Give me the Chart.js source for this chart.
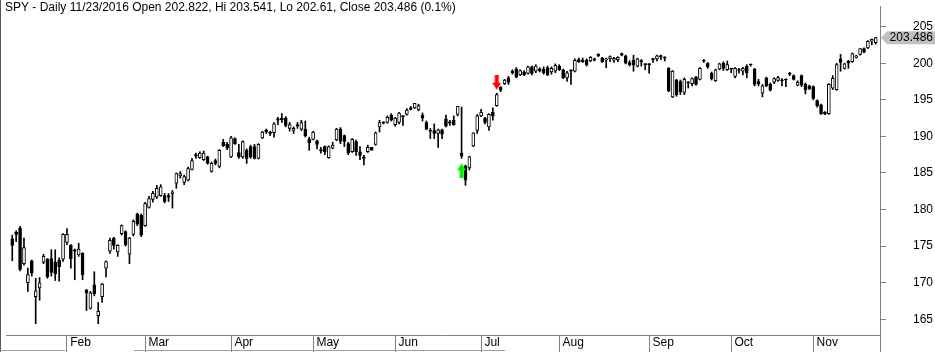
<!DOCTYPE html>
<html lang="en">
<head>
<meta charset="UTF-8">
<title>SPY - Daily</title>
<script src="https://cdn.jsdelivr.net/npm/chart.js"></script>
<style>
  html, body { margin: 0; padding: 0; background: #fff; }
  canvas { display: block; }
</style>
</head>
<body>
<canvas id="spyChart" width="935" height="352"></canvas>
<script>
const titleText = 'SPY - Daily 11/23/2016 Open 202.822, Hi 203.541, Lo 202.61, Close 203.486 (0.1%)';

// one entry per trading day, 11 Jan 2016 .. 23 Nov 2016
const opens = [
  176.0,176.9,177.5,172.6,170.0,173.0,168.1,169.3,172.8,173.2,
  173.3,172.8,173.1,173.2,175.5,175.1,174.5,173.8,174.0,169.0,
  166.5,169.7,165.5,168.1,172.0,174.3,176.1,174.2,176.7,177.0,
  173.9,176.6,179.4,179.2,177.8,180.3,181.4,181.7,181.9,181.9,
  181.9,182.2,183.6,184.6,183.7,184.0,185.5,187.5,187.1,186.8,
  187.2,185.2,186.7,185.9,189.2,188.9,187.2,189.7,187.8,187.2,
  188.1,188.6,188.6,187.0,189.8,190.9,190.6,190.5,192.4,192.5,
  192.5,191.1,190.8,191.6,191.0,191.0,189.6,189.6,189.4,188.2,
  188.6,187.1,188.4,189.5,191.0,190.1,189.0,187.9,189.3,187.9,
  187.2,187.9,188.5,188.9,191.3,192.0,191.9,192.9,191.6,191.9,
  192.8,193.0,193.9,193.9,193.6,192.9,191.9,190.8,190.8,190.4,
  190.9,192.4,192.0,192.2,193.0,187.7,185.9,185.7,188.7,190.8,
  192.8,192.5,191.3,193.3,194.2,196.7,197.2,198.0,198.9,199.2,
  198.4,198.8,198.6,199.5,198.9,199.2,199.2,199.4,198.8,198.9,
  199.6,199.1,198.0,199.1,198.9,200.5,200.4,200.4,200.3,200.6,
  201.2,200.7,200.4,200.6,200.4,200.5,201.3,201.0,200.1,200.4,
  199.6,200.35,199.9,199.9,200.6,200.6,201.0,200.8,199.3,195.4,
  197.7,197.5,196.0,197.4,197.2,198.1,197.8,200.4,200.0,198.6,
  197.6,199.2,200.0,199.1,199.3,198.2,199.1,198.9,199.6,199.8,
  199.2,197.5,195.9,198.0,197.1,197.4,197.65,197.7,197.8,198.65,
  198.3,197.0,198.3,197.1,196.9,196.8,194.9,194.3,193.3,193.1,
  196.6,196.4,200.6,199.3,200.3,200.2,200.8,201.2,202.0,202.1,
  203.0,202.822
];
const highs = [
  176.5,177.1,177.7,176.1,172.0,173.1,170.6,170.7,173.9,173.3,
  174.5,174.5,173.4,176.7,177.4,175.2,174.6,175.4,174.1,169.1,
  168.8,171.5,167.3,169.9,173.0,176.1,176.2,175.2,177.9,177.1,
  176.2,178.6,179.5,179.4,181.0,181.8,182.5,183.3,183.4,182.2,
  182.2,182.6,185.0,185.2,184.7,185.8,187.0,187.7,187.9,188.0,
  187.3,186.5,186.9,188.2,189.6,189.2,190.0,189.8,188.9,189.4,
  188.3,188.8,188.9,189.0,190.7,191.0,190.7,191.9,192.6,193.1,
  192.7,191.9,191.3,191.9,192.2,192.1,189.9,190.7,189.5,188.5,
  188.7,188.7,189.2,191.1,191.2,190.2,189.2,189.7,189.5,188.6,
  187.4,188.8,188.5,190.6,192.2,192.0,192.8,193.1,192.6,193.3,
  192.8,193.8,194.1,194.5,194.4,193.2,192.1,191.1,191.7,191.0,
  191.0,192.9,192.2,192.8,194.1,194.0,186.1,187.3,190.5,193.0,
  193.7,192.6,193.1,193.9,195.9,196.8,197.8,198.2,199.1,199.4,
  199.1,199.0,199.6,199.6,199.8,199.4,199.5,199.6,199.5,199.9,
  199.8,199.2,198.9,199.1,200.6,200.7,200.7,200.6,200.9,200.7,
  201.3,200.8,200.7,201.0,200.8,200.9,201.4,201.1,200.35,201.1,
  200.7,200.5,199.9,199.9,200.7,201.1,201.1,200.9,199.4,199.0,
  197.8,197.7,198.0,197.5,198.0,198.2,199.4,200.5,200.1,198.8,
  199.2,200.0,200.2,200.3,199.3,199.4,199.3,199.45,199.8,199.9,
  199.3,197.8,197.1,198.1,197.3,198.0,198.2,197.9,197.85,198.75,
  198.4,197.6,198.4,197.3,197.0,196.9,195.0,194.4,193.4,197.2,
  198.3,200.0,201.2,200.0,200.4,201.4,201.1,202.0,202.1,203.1,
  203.3,203.541
];
const lows = [
  173.0,175.6,171.6,172.4,168.8,170.9,164.4,167.6,172.6,170.6,
  170.9,170.3,170.2,172.9,175.2,172.0,170.4,173.6,170.4,166.2,
  166.4,168.2,164.4,167.3,170.8,174.0,174.6,173.6,176.5,175.0,
  172.6,176.4,177.8,176.3,177.7,180.2,181.0,181.5,181.8,180.9,
  181.1,180.2,182.9,184.3,183.4,183.9,185.4,187.0,187.0,186.7,
  186.2,185.1,186.1,185.7,188.6,188.2,187.1,188.9,187.0,187.0,
  186.3,187.0,186.9,186.9,189.7,190.4,190.1,189.9,191.6,191.9,
  191.3,190.7,190.4,191.1,190.8,189.9,188.1,189.5,188.3,187.7,
  187.5,187.0,188.3,189.4,189.0,188.6,187.5,187.8,187.4,186.8,
  186.1,187.8,188.1,188.8,190.6,191.7,191.8,192.1,191.4,191.7,
  191.5,192.9,193.6,193.8,193.5,192.1,190.9,189.7,189.7,188.5,
  189.7,191.3,191.5,191.5,192.8,187.0,183.3,185.4,188.6,190.4,
  192.7,191.7,190.8,192.2,194.1,196.1,197.1,197.1,198.5,198.0,
  198.3,198.3,198.5,198.4,198.7,198.8,198.5,198.3,198.5,198.7,
  199.0,197.9,197.5,197.1,198.8,200.1,200.1,199.6,200.2,200.3,
  200.9,200.1,199.4,200.2,200.1,200.2,201.0,199.9,199.6,198.9,
  199.5,199.6,199.1,198.65,200.1,200.3,200.5,200.3,196.1,195.3,
  195.5,195.7,195.7,196.6,196.9,197.0,197.7,200.1,199.3,197.7,
  197.5,199.1,199.0,199.0,198.7,198.0,198.65,198.4,198.0,199.6,
  196.9,196.9,195.4,196.8,196.2,197.2,197.5,196.9,196.8,198.3,
  197.7,196.9,196.8,195.8,196.4,195.0,194.0,193.0,192.95,193.0,
  196.4,196.3,198.9,199.2,199.3,200.1,200.7,201.1,201.4,202.0,
  202.5,202.61
];
const closes = [
  175.1,176.6,171.8,174.8,171.1,171.3,168.9,170.0,173.6,170.8,
  171.4,171.2,172.2,176.6,176.6,173.3,174.3,174.6,171.1,168.6,
  168.6,168.5,166.1,169.8,172.9,175.8,175.1,175.1,177.8,175.2,
  176.1,178.4,178.0,176.5,180.8,181.5,182.2,182.9,183.1,181.1,
  181.7,182.4,184.9,184.9,184.5,185.6,186.7,187.3,187.7,187.7,
  186.3,186.3,186.3,188.1,188.7,188.4,189.8,189.0,187.2,189.3,
  187.0,187.2,187.0,188.9,190.6,190.6,190.4,191.7,192.2,192.3,
  191.5,191.6,191.1,191.4,191.9,190.1,189.1,190.6,188.9,188.0,
  187.9,188.6,188.8,191.0,189.3,189.3,187.7,189.6,187.9,187.4,
  187.0,188.5,188.1,190.5,191.9,191.8,192.6,192.2,192.5,193.2,
  192.7,193.6,193.7,194.5,194.2,192.5,191.0,190.7,190.4,190.9,
  190.3,191.4,191.8,191.6,194.1,187.3,184.0,187.2,190.5,192.8,
  193.3,191.9,193.0,192.8,195.7,196.3,197.7,197.4,198.7,198.1,
  199.0,198.4,199.5,198.6,199.6,198.95,198.7,198.4,199.3,199.7,
  199.1,198.0,198.7,198.9,200.4,200.2,200.2,199.8,200.8,200.4,
  201.0,200.2,200.6,200.9,200.65,200.8,201.1,200.0,199.8,199.8,
  200.6,200.2,199.8,199.8,200.5,201.0,200.9,200.7,196.2,198.9,
  195.7,196.1,197.8,197.3,197.9,197.1,199.3,200.3,199.5,197.9,
  199.1,199.9,199.3,199.8,199.2,199.3,199.0,199.3,198.7,199.75,
  197.1,197.2,196.9,196.9,196.3,197.9,198.05,197.6,197.7,198.5,
  197.8,197.4,197.0,196.4,196.5,195.2,194.2,193.1,193.05,197.1,
  197.95,199.8,200.1,199.9,200.0,201.3,201.0,202.0,201.5,203.0,
  203.25,203.486
];

const monthNames = ['Feb', 'Mar', 'Apr', 'May', 'Jun', 'Jul', 'Aug', 'Sep', 'Oct', 'Nov'];
const monthStarts = [14, 34, 56, 77, 98, 120, 140, 163, 184, 205]; // bar of first trading day
const priceTicks = [165, 170, 175, 180, 185, 190, 195, 200, 205];

const buyBars = [115];
const buyPrices = [185.3];
const sellBars = [124];
const sellPrices = [197.4];

Chart.defaults.font.family = '"Liberation Sans", Arial, sans-serif';
Chart.defaults.font.size = 12;
Chart.defaults.color = '#000';

function makeArrow(color, up) {
    const c = document.createElement('canvas');
    c.width = 9;
    c.height = 15;
    const g = c.getContext('2d');
    g.fillStyle = color;
    g.beginPath();
    if (up) {
        g.moveTo(4.5, 0); g.lineTo(9, 7); g.lineTo(6.5, 7); g.lineTo(6.5, 15);
        g.lineTo(2.5, 15); g.lineTo(2.5, 7); g.lineTo(0, 7);
    } else {
        g.moveTo(2.5, 0); g.lineTo(6.5, 0); g.lineTo(6.5, 8); g.lineTo(9, 8);
        g.lineTo(4.5, 15); g.lineTo(0, 8); g.lineTo(2.5, 8);
    }
    g.closePath();
    g.fill();
    return c;
}

const isUp = i => closes[i] >= opens[i];

// frame bits, title and last price tag
const decor = {
    id: 'decor',
    afterDraw(chart) {
        const ctx = chart.ctx;
        const area = chart.chartArea;
        ctx.save();
        ctx.lineWidth = 1;
        ctx.strokeStyle = '#555';
        ctx.beginPath(); ctx.moveTo(0.5, 0); ctx.lineTo(0.5, chart.height); ctx.stroke();
        ctx.strokeStyle = '#808080';
        ctx.beginPath(); ctx.moveTo(area.right + 0.5, area.bottom); ctx.lineTo(area.right + 0.5, chart.height); ctx.stroke();
        ctx.strokeStyle = '#a0a0a0';
        ctx.beginPath();
        ctx.moveTo(0, 350.5); ctx.lineTo(65, 350.5);
        ctx.moveTo(134, 350.5); ctx.lineTo(505, 350.5);
        ctx.stroke();

        ctx.fillStyle = '#000';
        ctx.font = '12px "Liberation Sans", Arial, sans-serif';
        ctx.textAlign = 'left';
        ctx.textBaseline = 'alphabetic';
        ctx.fillText(titleText, 5, 11);

        const last = closes[closes.length - 1];
        const py = chart.scales.y.getPixelForValue(last);
        const x0 = area.right + 1;
        ctx.fillStyle = '#c0c0c0';
        ctx.beginPath();
        ctx.moveTo(x0, py);
        ctx.lineTo(x0 + 6, py - 6.5);
        ctx.lineTo(chart.width, py - 6.5);
        ctx.lineTo(chart.width, py + 6.5);
        ctx.lineTo(x0 + 6, py + 6.5);
        ctx.closePath();
        ctx.fill();
        ctx.fillStyle = '#000';
        ctx.textAlign = 'right';
        ctx.textBaseline = 'middle';
        ctx.fillText(last.toFixed(3), chart.width - 2, py);
        ctx.restore();
    }
};

new Chart(document.getElementById('spyChart'), {
    type: 'bar',
    data: {
        datasets: [
            {
                label: 'range',
                data: opens.map((o, i) => ({ x: i, y: [lows[i], highs[i]] })),
                backgroundColor: '#000',
                borderWidth: 0,
                barThickness: 1,
                grouped: false,
                order: 3
            },
            {
                label: 'body',
                data: opens.map((o, i) => ({ x: i, y: [o, closes[i]] })),
                backgroundColor: ctx => isUp(ctx.dataIndex) ? '#fff' : '#000',
                borderColor: '#000',
                borderWidth: 1,
                borderSkipped: false,
                barThickness: 3,
                minBarLength: 1,
                grouped: false,
                order: 2
            },
            {
                type: 'scatter',
                label: 'buy',
                data: buyBars.map((b, i) => ({ x: b, y: buyPrices[i] })),
                pointStyle: makeArrow('#00ee00', true),
                pointRadius: 5,
                showLine: false,
                order: 1
            },
            {
                type: 'scatter',
                label: 'sell',
                data: sellBars.map((b, i) => ({ x: b, y: sellPrices[i] })),
                pointStyle: makeArrow('#ff0000', false),
                pointRadius: 5,
                showLine: false,
                order: 1
            }
        ]
    },
    options: {
        responsive: false,
        animation: false,
        devicePixelRatio: 1,
        events: [],
        layout: { padding: { left: 1, right: 0, top: 0, bottom: 0 } },
        plugins: {
            legend: { display: false },
            tooltip: { enabled: false }
        },
        scales: {
            x: {
                type: 'linear',
                min: -1.6,
                max: 222.09,
                offset: false,
                afterBuildTicks: s => { s.ticks = monthStarts.map(v => ({ value: v })); },
                afterFit: s => { s.height = 17; s.paddingLeft = 0; s.paddingRight = 0; },
                ticks: {
                    autoSkip: false,
                    maxRotation: 0,
                    align: 'start',
                    padding: -17,
                    callback: (v, i) => ' ' + monthNames[i]
                },
                grid: { offset: false, drawOnChartArea: false, tickLength: 17, color: '#808080' },
                border: { display: true, color: '#808080' }
            },
            y: {
                position: 'right',
                min: 162.853,
                max: 207.819,
                afterBuildTicks: s => { s.ticks = priceTicks.map(v => ({ value: v })); },
                afterFit: s => { s.width = 55; s.paddingTop = 0; s.paddingBottom = 0; },
                ticks: { padding: 27 },
                grid: { drawOnChartArea: false, tickLength: 6, color: '#808080' },
                border: { display: true, color: '#808080' }
            }
        }
    },
    plugins: [decor]
});
</script>
</body>
</html>
